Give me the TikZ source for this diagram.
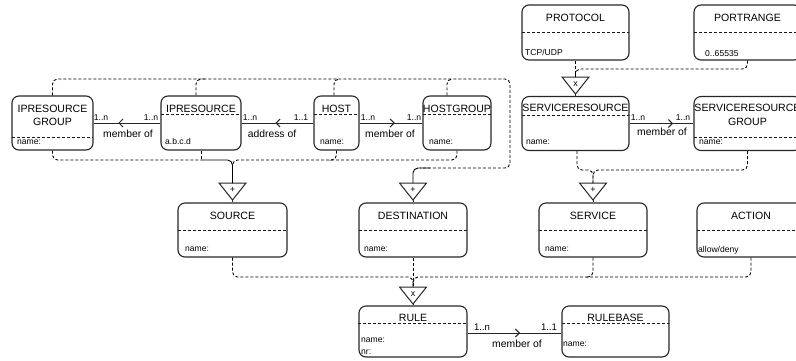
\documentclass[tikz,border=0pt]{standalone}
\usepackage{fontspec}
\setmainfont{Liberation Sans}
\usetikzlibrary{arrows.meta,decorations.markings}
\newcommand\mytri[4]{%
  \node[trin] (#1) at (#2,#3+8.5) {};
  \draw[line width=1bp,draw=black!85] (#1.north west) -- (#1.north east) -- (#1.south) -- cycle;
  \node[font=\fontsize{9}{10}\selectfont, inner sep=0] (#1l) at (#2,#3+7) {#4};}
\begin{document}
\begin{tikzpicture}[x=1bp,y=-1bp,
  ebox/.style={draw=black!85, line width=1.1bp, rounded corners=7bp, inner sep=0},
  sepline/.style={draw=black!90, line width=0.8bp, dash pattern=on 3bp off 2bp},
  link/.style={draw=black, line width=0.9bp, dash pattern=on 3bp off 2bp, rounded corners=5bp},
  solidlink/.style={draw=black, line width=0.9bp, rounded corners=5bp},
  rel/.style={draw=black!85, line width=1bp},
  ttl/.style={font=\fontsize{10.6}{13}\selectfont, anchor=base, inner sep=0},
  bdy/.style={font=\fontsize{8.6}{10}\selectfont, anchor=base west, inner sep=0},
  elab/.style={font=\fontsize{10.4}{12}\selectfont, anchor=base, inner sep=0},
  card/.style={font=\fontsize{8.6}{10}\selectfont, anchor=base, inner sep=0},
  trin/.style={minimum width=27bp, minimum height=17bp, inner sep=0, outer sep=0},
  midarrow/.style={postaction={decorate}, decoration={markings, mark=at position #1 with {\arrow[line width=1bp]{Straight Barb[length=4bp,width=8bp]}}}},
]
\path[use as bounding box] (0,0) rectangle (796,360);
\clip (0,0) rectangle (796,360);

% ---------- boxes ----------
\node[ebox, minimum width=81bp, minimum height=54bp] (ipg) at (52.5,123) {};
\draw[sepline] (12,137) -- (93,137);
\node[ttl] (ipgt1) at (52.5,112) {IPRESOURCE};
\node[ttl] (ipgt2) at (52.5,125) {GROUP};
\node[bdy] (ipgb) at (17,144.5) {name:};

\node[ebox, minimum width=80bp, minimum height=54bp] (ipr) at (201,123) {};
\draw[sepline] (161,114) -- (241,114);
\node[ttl] (iprt) at (201,112) {IPRESOURCE};
\node[bdy] (iprb) at (165,144.5) {a.b.c.d};

\node[ebox, minimum width=45bp, minimum height=54bp] (host) at (336.5,123) {};
\draw[sepline] (314,114) -- (359,114);
\node[ttl] (hostt) at (336.5,112) {HOST};
\node[bdy] (hostb) at (320,144.5) {name:};

\node[ebox, minimum width=68bp, minimum height=54bp] (hg) at (457,123) {};
\draw[sepline] (423,114) -- (492,114);
\node[ttl] (hgt) at (457,112) {HOSTGROUP};
\node[bdy] (hgb) at (429,144.5) {name:};

\node[ebox, minimum width=107bp, minimum height=54bp] (sr) at (575.5,123.5) {};
\draw[sepline] (522,115) -- (629,115);
\node[ttl] (srt) at (575.5,111) {SERVICERESOURCE};
\node[bdy] (srb) at (526,144.5) {name:};

\node[ebox, minimum width=107bp, minimum height=54bp] (srg) at (747.5,123.5) {};
\draw[sepline] (694,137) -- (801,137);
\node[ttl] (srgt1) at (747.5,111) {SERVICERESOURCE};
\node[ttl] (srgt2) at (747.5,125) {GROUP};
\node[bdy] (srgb) at (699,144.5) {name:};

\node[ebox, minimum width=107bp, minimum height=55bp] (proto) at (575.5,32.5) {};
\draw[sepline] (522,32) -- (629,32);
\node[ttl] (protot) at (575.5,21) {PROTOCOL};
\node[bdy] (protob) at (525,55.5) {TCP/UDP};

\node[ebox, minimum width=107bp, minimum height=55bp] (port) at (747.5,32.5) {};
\draw[sepline] (694,32) -- (801,32);
\node[ttl] (portt) at (747.5,21) {PORTRANGE};
\node[bdy] (portb) at (705,56) {0..65535};

\node[ebox, minimum width=109bp, minimum height=54bp] (source) at (232.5,230) {};
\draw[sepline] (178,230) -- (287,230);
\node[ttl] (sourcet) at (232.5,219) {SOURCE};
\node[bdy] (sourceb) at (185,251.5) {name:};

\node[ebox, minimum width=108bp, minimum height=54bp] (dest) at (413,230) {};
\draw[sepline] (359,230) -- (467,230);
\node[ttl] (destt) at (413,219) {DESTINATION};
\node[bdy] (destb) at (364,251.5) {name:};

\node[ebox, minimum width=108bp, minimum height=54bp] (service) at (593,230) {};
\draw[sepline] (539,230) -- (647,230);
\node[ttl] (servicet) at (593,219) {SERVICE};
\node[bdy] (serviceb) at (545,251.5) {name:};

\node[ebox, minimum width=108bp, minimum height=54bp] (action) at (751,230) {};
\draw[sepline] (697,230) -- (805,230);
\node[ttl] (actiont) at (751,219) {ACTION};
\node[bdy] (actionb) at (698,252) {allow/deny};

\node[ebox, minimum width=108bp, minimum height=51bp] (rule) at (413,331.5) {};
\draw[sepline] (358,323) -- (467,323);
\node[ttl] (rulet) at (413,321) {RULE};
\node[bdy] (ruleb1) at (361,342.5) {name:};
\node[bdy] (ruleb2) at (361,354.5) {nr:};

\node[ebox, minimum width=107bp, minimum height=51bp] (rulebase) at (615.5,331.5) {};
\draw[sepline] (562,323) -- (669,323);
\node[ttl] (rulebaset) at (615.5,321) {RULEBASE};
\node[bdy] (rulebaseb) at (563,346.5) {name:};

% ---------- triangles ----------
\mytri{tsr}{575.5}{77}{x}
\mytri{tsrc}{232.5}{183}{+}
\mytri{tdst}{413}{183}{+}
\mytri{tsvc}{593}{183}{+}
\mytri{trule}{413}{287}{x}

\draw[rel] (tsr.south) -- (sr.north);
\draw[rel] (tsrc.south) -- (source.north);
\draw[rel] (tdst.south) -- (dest.north);
\draw[rel] (tsvc.south) -- (service.north);
\draw[rel] (trule.south) -- (rule.north);

% ---------- dashed links ----------
\draw[link] (proto.south) -- (tsr.north);
\draw[link] (port.south) -- (747.5,69) -| (tsr.north);

% into SOURCE
\draw[link] (ipg.south) -- (52.5,160) -- (201,160);
\draw[link] (ipr.south) -- (201,160);
\draw[solidlink] (201,160) -| (tsrc.north);
\draw[link] (hg.south) -- (457,160) -| (tsrc.north);
\draw[link] (host.south) -- (336.5,160) -- (331.5,160);

% into DESTINATION
\draw[link] (ipg.north) |- (510,79) -- (510,168) -- (420,168);
\draw[solidlink] (430,168) -| (tdst.north);
\draw[link] ([xshift=-5bp]ipr.north) |- (206,79);
\draw[link] ([xshift=-2.5bp]host.north) |- (339,79);
\draw[link] ([xshift=-10bp]hg.north) |- (452,79);

% into SERVICE
\draw[link] ([xshift=1.5bp]sr.south) -- (577,170) -| (tsvc.north);
\draw[link] (srg.south) -- (747.5,170) -| (tsvc.north);

% into RULE
\draw[link] (source.south) -- (232.5,277) -| (trule.north);
\draw[link] (dest.south) -- (trule.north);
\draw[link] (action.south) -- (751,277) -| (trule.north);
\draw[link] (service.south) -- (593,277) -- (588,277);

% ---------- relations ----------
\draw[rel, midarrow=0.63] (ipr.west) -- (ipg.east);
\node[card] (c1) at (101,120) {1..n};
\node[card] (c2) at (151,120) {1..n};
\node[elab] (l1) at (128,137.5) {member of};

\draw[rel, midarrow=0.53] (host.west) -- (ipr.east);
\node[card] (c3) at (250,120) {1..n};
\node[card] (c4) at (301,120) {1..1};
\node[elab] (l2) at (272,137.5) {address of};

\draw[rel, midarrow=0.56] (host.east) -- (hg.west);
\node[card] (c5) at (368,120) {1..n};
\node[card] (c6) at (414,120) {1..n};
\node[elab] (l3) at (390,137.5) {member of};

\draw[rel, midarrow=0.68] (sr.east) -- (srg.west);
\node[card] (c7) at (638,120) {1..n};
\node[card] (c8) at (683,120) {1..n};
\node[elab] (l4) at (662,135.5) {member of};

\draw[rel, midarrow=0.56] ([yshift=-1.5bp]rule.east) -- ([yshift=-1.5bp]rulebase.west);
\node[card, font=\fontsize{9.6}{11}\selectfont] (c9) at (482,330) {1..n};
\node[card, font=\fontsize{9.6}{11}\selectfont] (c10) at (549,330) {1..1};
\node[elab] (l5) at (517,347.5) {member of};
\end{tikzpicture}
\end{document}
